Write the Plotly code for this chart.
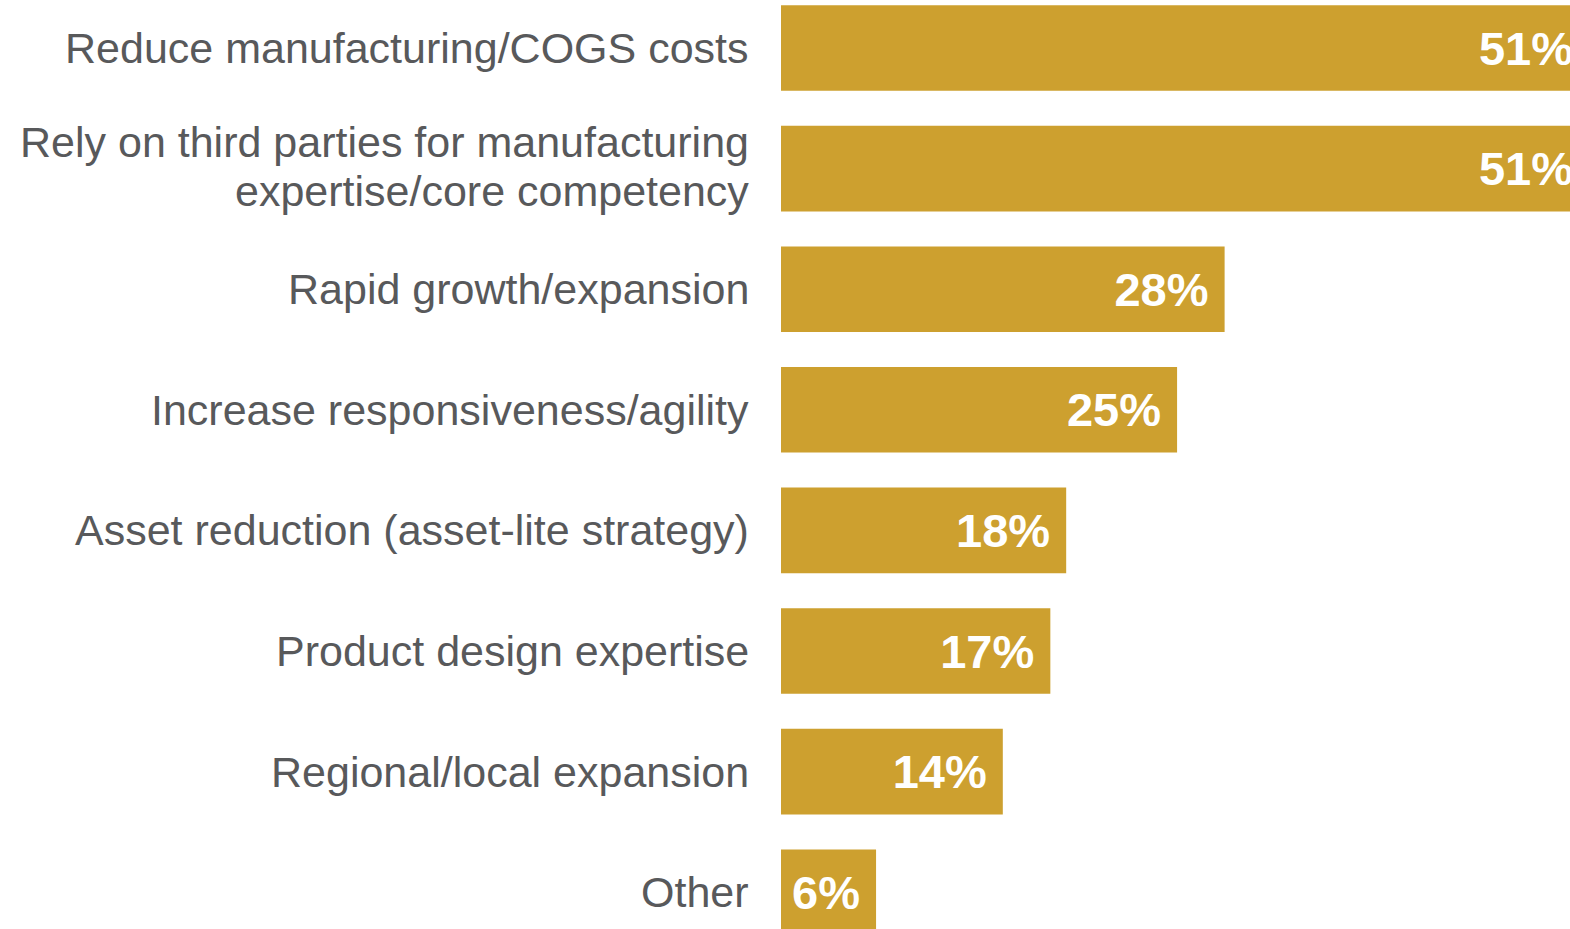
import plotly.graph_objects as go

# Reasons for outsourcing manufacturing (share of respondents, %)
categories = [
    "Reduce manufacturing/COGS costs",
    "Rely on third parties for manufacturing<br>expertise/core competency",
    "Rapid growth/expansion",
    "Increase responsiveness/agility",
    "Asset reduction (asset-lite strategy)",
    "Product design expertise",
    "Regional/local expansion",
    "Other",
]
values = [51, 51, 28, 25, 18, 17, 14, 6]

BAR_COLOR = "#CDA02F"
LABEL_COLOR = "#58595B"
LABEL_FONT = "Liberation Sans, Arial, sans-serif"

idx = list(range(len(categories)))

fig = go.Figure()
fig.add_trace(go.Bar(
    x=values,
    y=idx,
    orientation="h",
    marker=dict(color=BAR_COLOR, line=dict(width=0)),
    width=0.71,
    text=[f"{v}%\u00a0" for v in values],
    textposition="inside",
    insidetextanchor="end",
    textangle=0,
    insidetextfont=dict(family=LABEL_FONT, size=47, color="white", weight="bold"),
    cliponaxis=True,
    hoverinfo="skip",
))

# Category labels, right-aligned to the left of the bars
annotations = []
for i, cat in enumerate(categories):
    lines = cat.split("<br>")
    shifts = [0] if len(lines) == 1 else [26.5, -22.5]
    for line, shift in zip(lines, shifts):
        annotations.append(dict(
            x=0, xref="paper", xanchor="right", xshift=-30,
            y=i, yref="y", yanchor="middle", yshift=shift,
            text=line, showarrow=False,
            font=dict(family=LABEL_FONT, size=43, color=LABEL_COLOR),
        ))

fig.update_layout(
    width=1570,
    height=929,
    margin=dict(l=781, r=0, t=0, b=0),
    paper_bgcolor="white",
    plot_bgcolor="white",
    showlegend=False,
    annotations=annotations,
    xaxis=dict(range=[0, 49.8], visible=False, fixedrange=True),
    yaxis=dict(range=[7.305, -0.398], visible=False, fixedrange=True),
)

fig.write_html("out.html", config={"displayModeBar": False})
